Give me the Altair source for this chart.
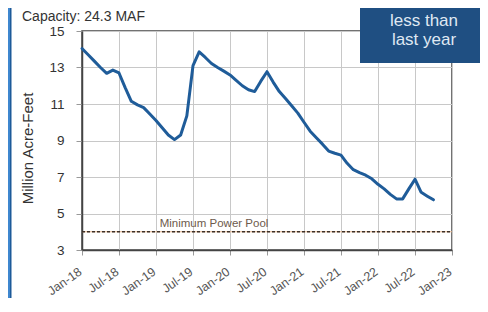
import altair as alt
import pandas as pd

# --- data ---
storage = [14.04, 13.7, 13.35, 13.0, 12.68, 12.86, 12.7, 11.9, 11.15, 10.95,
           10.8, 10.45, 10.1, 9.7, 9.3, 9.05, 9.3, 10.35, 13.1, 13.86,
           13.55, 13.22, 13.0, 12.8, 12.59, 12.3, 12.0, 11.78, 11.68, 12.25,
           12.77, 12.2, 11.68, 11.3, 10.9, 10.5, 10.0, 9.51, 9.15, 8.8,
           8.42, 8.3, 8.2, 7.75, 7.4, 7.24, 7.1, 6.9, 6.6, 6.35,
           6.05, 5.8, 5.8, 6.35, 6.88, 6.16, 5.95, 5.75]
tick_labels = ["Jan-18", "Jul-18", "Jan-19", "Jul-19", "Jan-20", "Jul-20",
               "Jan-21", "Jul-21", "Jan-22", "Jul-22", "Jan-23"]
y_ticks = [3, 5, 7, 9, 11, 13, 15]
min_power_pool = 4.0
title_text = "Capacity: 24.3 MAF"
box_lines = ["less than", "last year"]

W, H = 370, 219
FONT = "Liberation Sans"

df = pd.DataFrame({"month": list(range(len(storage))), "maf": storage})
x_vals = [6 * i for i in range(len(tick_labels))]
label_expr = "[" + ",".join(f"'{t}'" for t in tick_labels) + "][round(datum.value/6)]"

one = pd.DataFrame({"a": [0]})

x_scale = alt.Scale(domain=[0, 60], nice=False, zero=False)
y_scale = alt.Scale(domain=[3, 15], nice=False, zero=False)

line = alt.Chart(df).mark_line(color="#1f5c99", strokeWidth=3, strokeCap="round",
                               strokeJoin="round").encode(
    x=alt.X("month:Q", scale=x_scale,
            axis=alt.Axis(values=x_vals, tickCount=40, labelExpr=label_expr,
                          labelAngle=-35,
                          labelAlign="right", labelBaseline="middle",
                          labelFontSize=12.5, labelColor="#555", labelPadding=15,
                          labelOffset=-2,
                          labelFont=FONT, labelOverlap=False, labelBound=False,
                          labelFlush=False,
                          tickSize=5, tickColor="#999",
                          grid=True, gridColor="#c8c8c8", domainColor="#444",
                          domainWidth=1.5, title=None)),
    y=alt.Y("maf:Q", scale=y_scale,
            axis=alt.Axis(values=y_ticks, tickCount=40, format="d",
                          labelFontSize=13.5, labelColor="#333",
                          labelFont=FONT, labelPadding=12, labelOverlap=False,
                          labelFlush=False, labelBound=False, tickSize=6,
                          tickColor="#999", grid=True, gridColor="#c8c8c8",
                          domainColor="#444", domainWidth=1.5,
                          title="Million Acre-Feet", titleFont=FONT,
                          titleFontSize=15, titleFontWeight="normal",
                          titleColor="#333", titleX=-50, titleY=117,
                          titleAngle=-90, titleBaseline="alphabetic",
                          titleAlign="center")),
)

mpp_df = pd.DataFrame({"y": [min_power_pool]})
mpp_under = alt.Chart(mpp_df).mark_rule(color="#e3b48c", strokeWidth=1).encode(
    y=alt.Y("y:Q", scale=y_scale), x=alt.value(0), x2=alt.value(W))
mpp = alt.Chart(mpp_df).mark_rule(color="#3d3028", strokeWidth=1.6,
                                  strokeDash=[3, 2]).encode(
    y=alt.Y("y:Q", scale=y_scale), x=alt.value(0), x2=alt.value(W))

mpp_label = alt.Chart(pd.DataFrame({"x": [12.6], "y": [4.45],
                                    "t": ["Minimum Power Pool"]})).mark_text(
    align="left", baseline="middle", fontSize=11.5, font=FONT,
    color="#6e5a4c").encode(
    x=alt.X("x:Q", scale=x_scale), y=alt.Y("y:Q", scale=y_scale), text="t:N")

left_stripe = alt.Chart(one).mark_rect(color="#3f87cf").encode(
    x=alt.value(-80), x2=alt.value(-71), y=alt.value(-32), y2=alt.value(300))
left_edge = alt.Chart(one).mark_rect(color="#1d5a99").encode(
    x=alt.value(-72), x2=alt.value(-70.5), y=alt.value(-32), y2=alt.value(300))

box = alt.Chart(one).mark_rect(color="#1f4f82").encode(
    x=alt.value(278), x2=alt.value(410), y=alt.value(-42), y2=alt.value(32))

box_t1 = alt.Chart(one).mark_text(align="center", baseline="alphabetic",
                                  fontSize=17, font=FONT, color="#dfe8f2",
                                  text=box_lines[0]).encode(
    x=alt.value(342), y=alt.value(-5))
box_t2 = alt.Chart(one).mark_text(align="center", baseline="alphabetic",
                                  fontSize=17, font=FONT, color="#dfe8f2",
                                  text=box_lines[1]).encode(
    x=alt.value(342), y=alt.value(14))

title = alt.Chart(one).mark_text(align="left", baseline="alphabetic",
                                 fontSize=14, font=FONT, color="#333",
                                 text=title_text).encode(
    x=alt.value(-60), y=alt.value(-10))

chart = alt.layer(
    left_stripe, left_edge, mpp_under, mpp, mpp_label, line,
    box, box_t1, box_t2, title
).properties(
    width=W, height=H,
    autosize=alt.AutoSizeParams(type="none"),
    padding={"left": 74, "top": 23, "right": 28, "bottom": 48},
    background="white",
).configure_view(stroke="#444", strokeWidth=1.5)

chart.save("out.html", embed_options={"renderer": "svg", "actions": False})
